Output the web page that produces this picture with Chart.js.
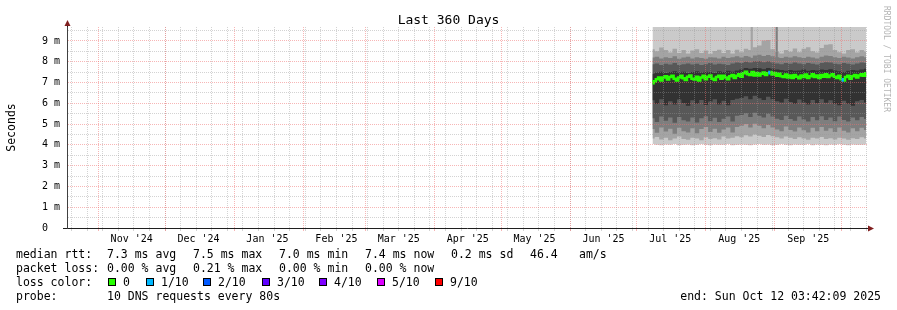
<!DOCTYPE html>
<html>
<head>
<meta charset="utf-8">
<title>Last 360 Days</title>
<script src="https://cdn.jsdelivr.net/npm/chart.js@4.4.0/dist/chart.umd.min.js"></script>
<style>
  html, body { margin: 0; padding: 0; background: #fff; }
  canvas { display: block; }
</style>
</head>
<body>
<canvas id="smokeChart" width="897" height="310"></canvas>
<script>
// x values are days counted from 1 Nov 2024 (end of graph: Sun Oct 12 2025)
const MONO = "'DejaVu Sans Mono', monospace";

const chartTitle = 'Last 360 Days';
const yTitle = 'Seconds';
const watermark = 'RRDTOOL / TOBI OETIKER';

// x axis
const monthStarts = [0, 30, 61, 92, 120, 151, 181, 212, 242, 273, 304, 334];
const monthLabelDays = [15, 45, 76, 107, 135, 166, 196, 227, 257, 288, 319];
const monthLabels = ["Nov '24", "Dec '24", "Jan '25", "Feb '25", "Mar '25", "Apr '25", "May '25", "Jun '25", "Jul '25", "Aug '25", "Sep '25"];

// y axis (value in ms)
const yLabelValues = [0, 1, 2, 3, 4, 5, 6, 7, 8, 9];
const yLabels = ['0  ', '1 m', '2 m', '3 m', '4 m', '5 m', '6 m', '7 m', '8 m', '9 m'];

// smoke bands, one value every second day
const smokeDays = [249, 251, 253, 255, 257, 259, 261, 263, 265, 267,
  269, 271, 273, 275, 277, 279, 281, 283, 285, 287,
  289, 291, 293, 295, 297, 299, 301, 303, 305, 307,
  309, 311, 313, 315, 317, 319, 321, 323, 325, 327,
  329, 331, 333, 335, 337, 339, 341, 343, 345];

const band1Top = [9.9, 9.9, 9.9, 9.9, 9.9, 9.9, 9.9, 9.9, 9.9, 9.9,
  9.9, 9.9, 9.9, 9.9, 9.9, 9.9, 9.9, 9.9, 9.9, 9.9,
  9.9, 9.9, 9.9, 9.9, 9.9, 9.9, 9.9, 9.9, 9.9, 9.9,
  9.9, 9.9, 9.9, 9.9, 9.9, 9.9, 9.9, 9.9, 9.9, 9.9,
  9.9, 9.9, 9.9, 9.9, 9.9, 9.9, 9.9, 9.9, 9.9];
const band1Bottom = [4.04, 4.00, 3.98, 4.02, 4.00, 4.04, 3.98, 4.00, 4.02, 3.98,
  4.00, 4.04, 4.00, 3.98, 4.02, 4.00, 4.00, 4.04, 3.98, 4.00,
  4.02, 4.00, 3.98, 4.02, 4.04, 4.00, 4.02, 3.98, 4.00, 4.04,
  4.00, 3.98, 4.02, 4.00, 4.00, 4.04, 3.98, 4.02, 4.00, 3.98,
  4.02, 4.00, 4.04, 4.00, 3.98, 4.02, 4.00, 4.00, 4.02];

const band2Top = [8.60, 8.50, 8.68, 8.56, 8.44, 8.62, 8.42, 8.56, 8.40, 8.54,
  8.60, 8.42, 8.54, 8.38, 8.52, 8.58, 8.42, 8.56, 8.40, 8.58,
  8.46, 8.62, 8.56, 8.70, 8.78, 9.02, 9.04, 8.60, 8.48, 8.40,
  8.56, 8.48, 8.64, 8.46, 8.62, 8.70, 8.50, 8.44, 8.66, 8.82,
  8.84, 8.56, 8.46, 8.40, 8.56, 8.60, 8.44, 8.56, 8.48];
const band2Bottom = [4.30, 4.38, 4.26, 4.34, 4.22, 4.30, 4.40, 4.28, 4.24, 4.34,
  4.30, 4.22, 4.36, 4.28, 4.32, 4.26, 4.40, 4.30, 4.34, 4.42,
  4.36, 4.46, 4.40, 4.50, 4.44, 4.38, 4.48, 4.42, 4.36, 4.30,
  4.40, 4.34, 4.28, 4.36, 4.30, 4.24, 4.34, 4.30, 4.38, 4.28,
  4.32, 4.26, 4.34, 4.30, 4.24, 4.32, 4.28, 4.36, 4.30];

const band3Top = [8.20, 8.24, 8.16, 8.22, 8.18, 8.26, 8.14, 8.20, 8.24, 8.16,
  8.22, 8.18, 8.14, 8.22, 8.20, 8.16, 8.24, 8.18, 8.22, 8.26,
  8.20, 8.28, 8.24, 8.30, 8.34, 8.28, 8.32, 8.26, 8.22, 8.18,
  8.24, 8.20, 8.26, 8.22, 8.18, 8.24, 8.20, 8.16, 8.24, 8.30,
  8.28, 8.22, 8.18, 8.24, 8.20, 8.16, 8.22, 8.26, 8.22];
const band3Bottom = [4.76, 4.58, 4.84, 4.64, 4.78, 4.54, 4.82, 4.66, 4.60, 4.80,
  4.56, 4.76, 4.86, 4.62, 4.78, 4.58, 4.74, 4.84, 4.60, 4.86,
  4.92, 5.00, 4.84, 5.02, 4.92, 4.80, 4.96, 4.84, 4.74, 4.66,
  4.88, 4.72, 4.64, 4.84, 4.70, 4.60, 4.82, 4.66, 4.86, 4.68,
  4.80, 4.62, 4.84, 4.68, 4.60, 4.80, 4.66, 4.82, 4.72];

const band4Top = [7.88, 7.92, 7.84, 7.90, 7.86, 7.94, 7.84, 7.88, 7.92, 7.86,
  7.90, 7.84, 7.88, 7.94, 7.86, 7.90, 7.88, 7.84, 7.92, 7.96,
  7.94, 8.00, 7.96, 8.02, 8.04, 7.98, 8.02, 7.96, 7.92, 7.88,
  7.94, 7.90, 7.96, 7.92, 7.88, 7.94, 7.90, 7.86, 7.94, 7.98,
  7.96, 7.90, 7.88, 7.94, 7.90, 7.86, 7.92, 7.96, 7.94];
const band4Bottom = [5.28, 5.10, 5.36, 5.16, 5.32, 5.06, 5.34, 5.18, 5.12, 5.32,
  5.08, 5.28, 5.38, 5.14, 5.30, 5.10, 5.26, 5.36, 5.12, 5.40,
  5.44, 5.52, 5.34, 5.54, 5.40, 5.32, 5.50, 5.36, 5.26, 5.20,
  5.40, 5.24, 5.16, 5.36, 5.22, 5.12, 5.34, 5.18, 5.38, 5.20,
  5.32, 5.14, 5.36, 5.20, 5.12, 5.32, 5.18, 5.34, 5.24];

const band5Top = [7.42, 7.48, 7.52, 7.46, 7.50, 7.54, 7.48, 7.52, 7.46, 7.50,
  7.54, 7.48, 7.52, 7.50, 7.46, 7.54, 7.50, 7.56, 7.52, 7.58,
  7.62, 7.70, 7.66, 7.70, 7.68, 7.64, 7.70, 7.66, 7.62, 7.60,
  7.56, 7.60, 7.56, 7.58, 7.62, 7.56, 7.60, 7.58, 7.62, 7.60,
  7.64, 7.58, 7.54, 7.50, 7.56, 7.60, 7.58, 7.62, 7.66];
const band5Bottom = [6.14, 5.96, 6.20, 5.90, 6.10, 5.94, 6.18, 6.00, 5.88, 6.14,
  5.98, 6.16, 5.92, 6.08, 6.20, 5.94, 6.12, 5.90, 6.16, 6.22,
  6.26, 6.34, 6.20, 6.36, 6.24, 6.16, 6.32, 6.20, 6.10, 6.04,
  6.22, 6.06, 5.98, 6.18, 6.04, 5.94, 6.16, 6.00, 6.20, 6.02,
  6.14, 5.98, 5.90, 6.12, 5.98, 5.88, 6.10, 6.16, 6.04];

// single outliers poking up through the smoke
const spikeDays = [293.6, 304.8];
const spikeLow = [8.2, 7.95];
const spikeHigh = [9.9, 9.9];

// median rtt, one value per day
const medianDays = [249, 250, 251, 252, 253, 254, 255, 256, 257, 258,
  259, 260, 261, 262, 263, 264, 265, 266, 267, 268,
  269, 270, 271, 272, 273, 274, 275, 276, 277, 278,
  279, 280, 281, 282, 283, 284, 285, 286, 287, 288,
  289, 290, 291, 292, 293, 294, 295, 296, 297, 298,
  299, 300, 301, 302, 303, 304, 305, 306, 307, 308,
  309, 310, 311, 312, 313, 314, 315, 316, 317, 318,
  319, 320, 321, 322, 323, 324, 325, 326, 327, 328,
  329, 330, 331, 332, 333, 334, 335, 336, 337, 338,
  339, 340, 341, 342, 343, 344, 345];
const medianRtt = [6.96, 7.06, 7.16, 7.24, 7.10, 7.24, 7.30, 7.14, 7.26, 7.32,
  7.18, 7.10, 7.24, 7.32, 7.20, 7.12, 7.28, 7.34, 7.18, 7.14,
  7.28, 7.10, 7.24, 7.32, 7.16, 7.28, 7.34, 7.18, 7.12, 7.26,
  7.32, 7.18, 7.32, 7.24, 7.16, 7.30, 7.36, 7.22, 7.32, 7.40,
  7.28, 7.44, 7.52, 7.40, 7.36, 7.50, 7.34, 7.46, 7.34, 7.42,
  7.48, 7.36, 7.44, 7.50, 7.38, 7.46, 7.32, 7.42, 7.30, 7.26,
  7.38, 7.24, 7.34, 7.22, 7.36, 7.28, 7.20, 7.34, 7.26, 7.38,
  7.22, 7.30, 7.40, 7.26, 7.34, 7.22, 7.36, 7.28, 7.40, 7.26,
  7.34, 7.40, 7.28, 7.22, 7.32, 7.16, 7.10, 7.26, 7.32, 7.18,
  7.30, 7.36, 7.24, 7.34, 7.40, 7.32, 7.44];
const lossDays = [301, 334]; // days where the median shows 1/10 loss

// legend
const rttStats = ['7.3 ms avg', '7.5 ms max', '7.0 ms min', '7.4 ms now', '0.2 ms sd', '46.4', 'am/s'];
const lossStats = ['0.00 % avg', '0.21 % max', '0.00 % min', '0.00 % now'];
const lossLabels = ['0', '1/10', '2/10', '3/10', '4/10', '5/10', '9/10'];
const lossColors = ['#26ff00', '#00b8ff', '#0059ff', '#5e00ff', '#7e00ff', '#dd00ff', '#ff0000'];
const probeText = '10 DNS requests every 80s';
const endText = 'end: Sun Oct 12 03:42:09 2025';

const XMIN = -14.06, XMAX = 345.38, YMAX = 9.67;
const MAJOR = 'rgba(240, 110, 110, 0.5)';
const MINOR = 'rgba(150, 150, 150, 0.42)';
const CLEAR = 'rgba(0, 0, 0, 0)';

function gridColor(tick) {
  if (!tick) return CLEAR;
  if (tick.kind === 'major') return MAJOR;
  if (tick.kind === 'minor') return MINOR;
  return CLEAR;
}

function xTicks() {
  const ticks = [];
  for (let d = 2 - 7 * 2; d <= XMAX; d += 7) {
    if (d >= XMIN) ticks.push({ value: d, kind: 'minor' });
  }
  monthStarts.forEach(d => ticks.push({ value: d, kind: 'major' }));
  monthLabelDays.forEach((d, i) => ticks.push({ value: d, kind: 'label', text: monthLabels[i] }));
  return ticks.sort((a, b) => a.value - b.value);
}

function yTicks() {
  const ticks = [];
  for (let v = 0; v <= YMAX; v += 0.5) {
    const i = yLabelValues.indexOf(v);
    ticks.push({ value: v, kind: i >= 0 ? 'major' : 'minor', text: i >= 0 ? yLabels[i] : '' });
  }
  return ticks;
}

const points = (days, values) => values.map((v, i) => ({ x: days[i], y: v }));

function band(bottom, top, color, order) {
  const common = { type: 'line', stepped: 'middle', pointRadius: 0, borderWidth: 0, borderColor: CLEAR, clip: 0, order };
  return [
    { ...common, data: points(smokeDays, bottom), fill: false },
    { ...common, data: points(smokeDays, top), fill: '-1', backgroundColor: color }
  ];
}

const datasets = [
  ...band(band1Bottom, band1Top, '#cacaca', 6),
  ...band(band2Bottom, band2Top, '#a4a4a4', 5),
  ...band(band3Bottom, band3Top, '#7e7e7e', 4),
  ...band(band4Bottom, band4Top, '#585858', 3),
  ...band(band5Bottom, band5Top, '#323232', 2),
  {
    type: 'bar',
    data: spikeDays.map((d, i) => ({ x: d, y: [spikeLow[i], spikeHigh[i]] })),
    backgroundColor: ['#a4a4a4', '#7e7e7e'],
    barThickness: 1.5,
    borderWidth: 0,
    clip: 0,
    order: 3.5
  },
  {
    type: 'line',
    data: points(medianDays, medianRtt),
    borderColor: lossColors[0],
    borderWidth: 2.5,
    stepped: 'middle',
    pointRadius: 0,
    fill: false,
    clip: 0,
    order: 0,
    segment: {
      borderColor: c => lossDays.includes(medianDays[c.p0DataIndex]) ? lossColors[1] : undefined
    }
  }
];

// titles, legend and axis arrows the way rrdtool draws them
const rrdDecor = {
  id: 'rrdDecor',
  afterDraw(chart) {
    const { ctx, chartArea: a } = chart;
    const ax = a.left + 0.5, ay = a.bottom + 0.5;
    ctx.save();

    ctx.strokeStyle = '#1f1f1f';
    ctx.lineWidth = 1;
    ctx.beginPath();
    ctx.moveTo(a.right, ay); ctx.lineTo(a.right + 3, ay);
    ctx.moveTo(ax, a.top); ctx.lineTo(ax, a.top - 3);
    ctx.stroke();
    ctx.fillStyle = '#801f1f';
    ctx.beginPath();
    ctx.moveTo(a.right + 1, ay - 3); ctx.lineTo(a.right + 7, ay); ctx.lineTo(a.right + 1, ay + 3);
    ctx.closePath(); ctx.fill();
    ctx.beginPath();
    ctx.moveTo(ax - 3, a.top - 1); ctx.lineTo(ax, a.top - 7); ctx.lineTo(ax + 3, a.top - 1);
    ctx.closePath(); ctx.fill();

    ctx.fillStyle = '#000';
    ctx.textAlign = 'center';
    ctx.textBaseline = 'alphabetic';
    ctx.font = '13px ' + MONO;
    ctx.fillText(chartTitle, chart.width / 2, 24);

    ctx.save();
    ctx.translate(15, (a.top + a.bottom) / 2);
    ctx.rotate(-Math.PI / 2);
    ctx.font = '11.5px ' + MONO;
    ctx.fillText(yTitle, 0, 0);
    ctx.restore();

    ctx.save();
    ctx.translate(884, 59);
    ctx.rotate(Math.PI / 2);
    ctx.fillStyle = '#b4b4b4';
    ctx.font = '8px ' + MONO;
    ctx.fillText(watermark, 0, 0);
    ctx.restore();

    ctx.textAlign = 'left';
    ctx.font = '11.5px ' + MONO;
    const cols = [107, 193, 279, 365, 451, 530, 579];
    ctx.fillText('median rtt:', 16, 258);
    rttStats.forEach((t, i) => ctx.fillText(t, cols[i], 258));
    ctx.fillText('packet loss:', 16, 272);
    lossStats.forEach((t, i) => ctx.fillText(t, cols[i], 272));
    ctx.fillText('loss color:', 16, 286);
    const swatchX = [108, 146, 203, 262, 319, 377, 435];
    lossLabels.forEach((t, i) => {
      ctx.fillStyle = lossColors[i];
      ctx.fillRect(swatchX[i], 278, 8, 8);
      ctx.strokeStyle = '#000';
      ctx.strokeRect(swatchX[i] + 0.5, 278.5, 7, 7);
      ctx.fillStyle = '#000';
      ctx.fillText(t, swatchX[i] + 15, 286);
    });
    ctx.fillText('probe:', 16, 300);
    ctx.fillText(probeText, 107, 300);
    ctx.textAlign = 'right';
    ctx.fillText(endText, 881, 300);
    ctx.restore();
  }
};

Chart.defaults.font.family = MONO;

new Chart(document.getElementById('smokeChart'), {
  type: 'line',
  data: { datasets },
  plugins: [rrdDecor],
  options: {
    responsive: false,
    animation: false,
    events: [],
    layout: { padding: { top: 27, right: 30, bottom: 62, left: 0 } },
    plugins: { legend: { display: false }, tooltip: { enabled: false } },
    scales: {
      x: {
        type: 'linear',
        min: XMIN,
        max: XMAX,
        offset: false,
        afterBuildTicks: axis => { axis.ticks = xTicks(); },
        afterFit: axis => { axis.height = 20; },
        ticks: {
          autoSkip: false,
          maxRotation: 0,
          padding: 2,
          color: '#000',
          font: { family: MONO, size: 10 },
          callback: (v, i, ticks) => ticks[i].text || ''
        },
        grid: {
          z: 1,
          offset: false,
          tickLength: 3,
          color: c => gridColor(c.tick),
          tickColor: c => gridColor(c.tick)
        },
        border: { color: '#1f1f1f', z: 2, dash: [1, 1] }
      },
      y: {
        type: 'linear',
        min: 0,
        max: YMAX,
        afterBuildTicks: axis => { axis.ticks = yTicks(); },
        afterFit: axis => { axis.width = 67; },
        ticks: {
          autoSkip: false,
          padding: 3,
          color: '#000',
          font: { family: MONO, size: 10 },
          callback: (v, i, ticks) => ticks[i].text || ''
        },
        grid: {
          z: 1,
          tickLength: 4,
          color: c => gridColor(c.tick),
          tickColor: c => (c.tick && c.tick.value === 0 ? '#1f1f1f' : CLEAR)
        },
        border: { color: '#404040', z: 2, dash: [1, 1] }
      }
    }
  }
});
</script>
</body>
</html>
